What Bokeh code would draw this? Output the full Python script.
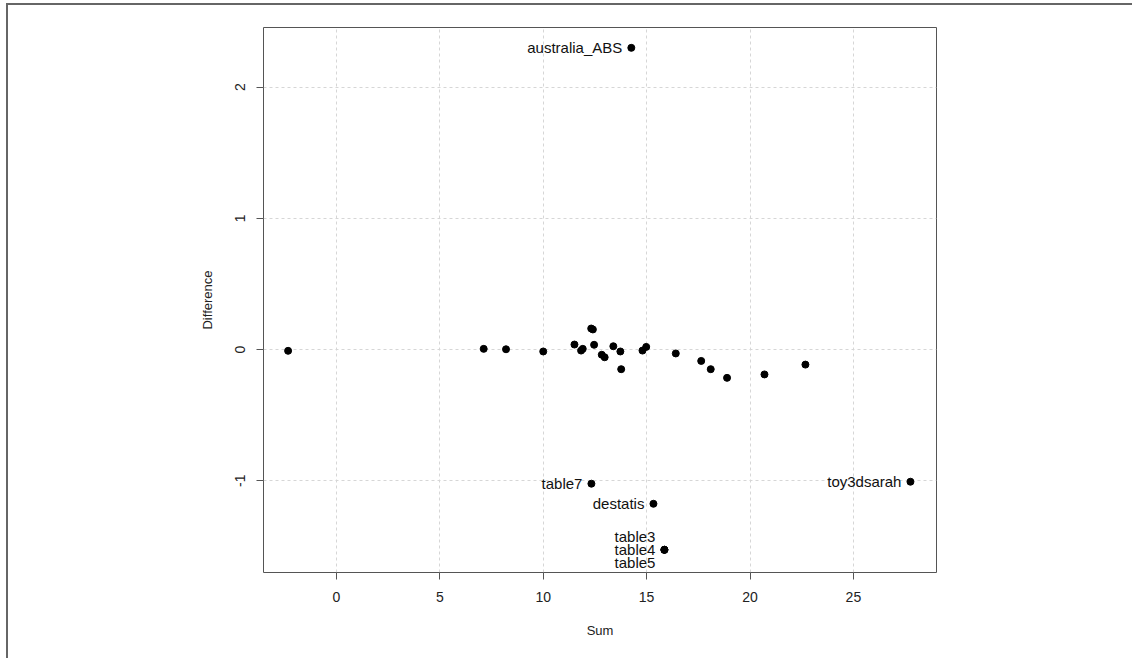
from bokeh.plotting import figure
from bokeh.models import ColumnDataSource, Range1d, FixedTicker
from bokeh.core.properties import value
from bokeh.embed import file_html
from bokeh.resources import INLINE

# unlabeled points (Sum, Difference)
sum_vals = [-2.34, 7.12, 8.2, 10.0, 11.51, 11.83, 11.91, 12.32, 12.4, 12.46,
            12.83, 12.97, 13.39, 13.73, 13.77, 14.8, 14.98, 16.41, 17.64,
            18.1, 18.89, 20.7, 22.68]
diff_vals = [-0.01, 0.005, 0.002, -0.015, 0.038, -0.008, 0.005, 0.16, 0.153,
             0.036, -0.04, -0.059, 0.025, -0.015, -0.15, -0.008, 0.02, -0.03,
             -0.087, -0.15, -0.216, -0.19, -0.115]

# labelled points
lab_names = ["australia_ABS", "table7", "destatis", "table3", "table4", "table5", "toy3dsarah"]
lab_sum = [14.26, 12.33, 15.33, 15.86, 15.86, 15.86, 27.76]
lab_diff = [2.30, -1.023, -1.176, -1.527, -1.527, -1.527, -1.008]
lab_dy = [0, 0, 0, -13, 0, 13, 0]

x_ticks = [0, 5, 10, 15, 20, 25]
y_ticks = [-1, 0, 1, 2]
y_tick_labels = {-1: "-1", 0: "0", 1: "1", 2: "2"}

FONT = "Liberation Sans"

p = figure(width=1126, height=655, output_backend="svg", toolbar_location=None,
           x_range=Range1d(-3.53, 29.02), y_range=Range1d(-1.70, 2.455),
           min_border_left=255, min_border_right=198, min_border_top=22,
           min_border_bottom=88, x_axis_label="Sum", y_axis_label="Difference")
p.styles = {"border-top": "2px solid #666666", "border-left": "2px solid #666666",
            "margin-left": "6px", "margin-top": "3px"}

p.outline_line_color = "#555555"
p.outline_line_width = 1
p.background_fill_color = "white"
p.border_fill_color = "white"

for ax in (p.xaxis[0], p.yaxis[0]):
    ax.axis_line_color = None
    ax.major_tick_line_color = "#555555"
    ax.major_tick_out = 7
    ax.major_tick_in = 0
    ax.minor_tick_line_color = None
    ax.major_label_text_font = FONT
    ax.major_label_text_font_size = "14px"
    ax.major_label_text_color = "#222222"
    ax.axis_label_text_font = FONT
    ax.axis_label_text_font_size = "13px"
    ax.axis_label_text_font_style = "normal"
    ax.axis_label_text_color = "#222222"

p.xaxis[0].ticker = FixedTicker(ticks=x_ticks)
p.yaxis[0].ticker = FixedTicker(ticks=y_ticks)
p.yaxis[0].major_label_overrides = y_tick_labels
p.xaxis[0].major_label_standoff = 12
p.xaxis[0].axis_label_standoff = 18
p.yaxis[0].major_label_orientation = "vertical"
p.yaxis[0].major_label_standoff = 11
p.yaxis[0].axis_label_standoff = 18

p.xgrid[0].ticker = FixedTicker(ticks=x_ticks)
p.ygrid[0].ticker = FixedTicker(ticks=y_ticks)
for g in (p.xgrid[0], p.ygrid[0]):
    g.grid_line_color = "#d6d6d6"
    g.grid_line_dash = "3 3"
    g.grid_line_width = 1

src = ColumnDataSource(dict(x=sum_vals, y=diff_vals))
p.scatter("x", "y", source=src, size=7, color="black")

lsrc = ColumnDataSource(dict(x=lab_sum, y=lab_diff, name=lab_names, dy=lab_dy))
p.scatter("x", "y", source=lsrc, size=7, color="black")
p.text("x", "y", text="name", source=lsrc, x_offset=-9, y_offset="dy",
       text_align="right", text_baseline="middle", text_font=value(FONT),
       text_font_size="15px", text_color="#111111")

open("out.html", "w").write(file_html(p, INLINE))
